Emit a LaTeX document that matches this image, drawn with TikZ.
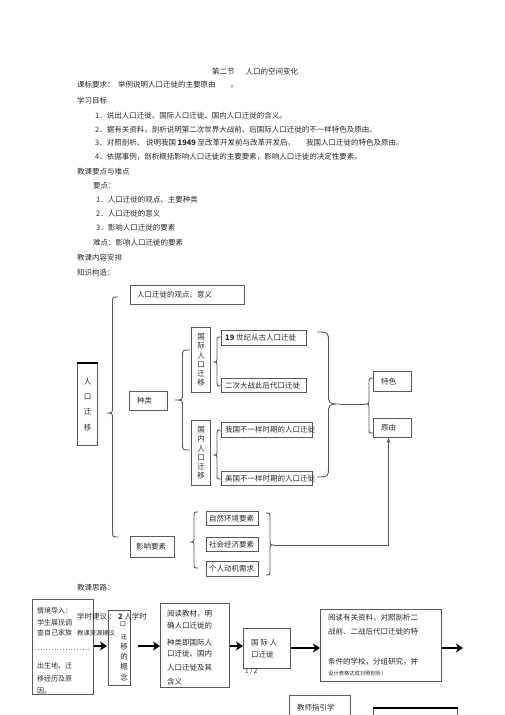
\documentclass[tikz,border=0pt]{standalone}
\usepackage{fontspec}
\setmainfont{Noto Sans CJK SC}
\usetikzlibrary{arrows.meta,calc}
\definecolor{boxc}{HTML}{5A5A5A}
\definecolor{txtc}{HTML}{2A2A2A}
\newcommand\fs{\fontsize{7.5}{9}\selectfont}
\newcommand\fss{\fontsize{6.3}{7}\selectfont}
% brace: #1 end x, #2 tip x, #3 top y, #4 tip y, #5 bottom y, #6 radius
\newcommand\Brc[6]{%
  \draw[brc] (#1,#3) .. controls ({(#1+#2)/2},#3) .. ({(#1+#2)/2},#3+#6)
    -- ({(#1+#2)/2},#4-#6) .. controls ({(#1+#2)/2},#4) .. (#2,#4)
    .. controls ({(#1+#2)/2},#4) .. ({(#1+#2)/2},#4+#6)
    -- ({(#1+#2)/2},#5-#6) .. controls ({(#1+#2)/2},#5) .. (#1,#5);}
% box: name, x, y, w, h, text pad, text
\newcommand\Bx[7]{%
  \node[bx,anchor=north west,minimum width=#4,minimum height=#5] (#1) at (#2,#3) {};
  \node[txt] (#1t) at ([xshift=#6]#1.west) {#7};}
\begin{document}
\begin{tikzpicture}[x=1pt,y=-1pt,
  txt/.style={anchor=west,inner sep=0,font=\fs,text=txtc},
  bx/.style={draw=boxc,line width=1,inner sep=0},
  vbx/.style={draw=boxc,line width=1,inner sep=0,anchor=north west,align=center,text=txtc},
  brc/.style={draw=boxc,line width=0.9},
  arr/.style={line width=2.2,-{Stealth[length=7,width=9,inset=2]}},
  thin arrow/.style={draw=boxc,line width=1,-{Stealth[length=5,width=4]}}]
\useasboundingbox[fill=white] (0,0) rectangle (505,715);

% ---------- header text ----------
\node[txt] (title) at (212,72) {第二节\quad\ \ 人口的空间变化};
\node[txt] (kb) at (77,85) {课标要求：\ \ 举例说明人口迁徙的主要原由\qquad 。};
\node[txt] (xx) at (77,101) {学习目标};
\node[txt] (g1) at (95,116) {1．说出人口迁徙、国际人口迁徙、国内人口迁徙的含义。};
\node[txt] (g2) at (95,130) {2．据有关资料，剖析说明第二次世界大战前、后国际人口迁徙的不一样特色及原由。};
\node[txt] (g3) at (95,143) {3．对照剖析、 说明我国 \textbf{1949} 至改革开发前与改革开发后，\quad\ \ 我国人口迁徙的特色及原由。};
\node[txt] (g4) at (95,157) {4．依据事例，剖析概括影响人口迁徙的主要要素，影响人口迁徙的决定性要素。};
\node[txt] (zd) at (77,172) {教课要点与难点};
\node[txt] (yd) at (93,186) {要点：};
\node[txt] (y1) at (96,200) {1．人口迁徙的观点、主要种类};
\node[txt] (y2) at (96,214) {2．人口迁徙的意义};
\node[txt] (y3) at (96,228) {3．影响人口迁徙的要素};
\node[txt] (nd) at (93,243) {难点：影响人口迁徙的要素};
\node[txt] (ap) at (77,258) {教课内容安排};
\node[txt] (gz) at (77,273) {知识构造：};

% ---------- knowledge structure ----------
\Bx{a}{130}{285}{114}{19}{7}{人口迁徙的观点、意义}
\node[vbx,minimum width=20,minimum height=82,font=\fontsize{7.5}{15.3}\selectfont] (rk) at (77,363) {人\\口\\迁\\移};
\draw[line width=1.4,black] (rk.north west) -- (rk.north east);
\Bx{zl}{129}{391}{38}{19}{8}{种类}
\node[vbx,minimum width=19,minimum height=65,font=\fontsize{7.5}{9.2}\selectfont] (gj) at (191,327) {国\\际\\人\\口\\迁\\移};
\node[vbx,minimum width=19,minimum height=65,font=\fontsize{7.5}{9.2}\selectfont] (gn) at (191,420) {国\\内\\人\\口\\迁\\移};
\Bx{k1}{221}{330}{85}{15}{4}{\textbf{19} 世纪从古人口迁徙}
\Bx{k2}{221}{378}{85}{14}{4}{二次大战此后代口迁徙}
\Bx{k3}{221}{422}{91}{15}{4}{我国不一样时期的人口迁徙}
\Bx{k4}{221}{471}{91}{14}{4}{美国不一样时期的人口迁徙}
\Bx{ts}{373}{371}{38}{20}{8}{特色}
\Bx{yy}{373}{418}{38}{19}{8}{原由}
\Bx{yx}{130}{536}{44}{21}{6}{影响要素}
\Bx{f1}{206}{511}{52}{14}{3}{自然环境要素}
\Bx{f2}{206}{537}{52}{14}{3}{社会经济要素}
\Bx{f3}{206}{561}{52}{15}{3}{个人动机需求}

% braces
\Brc{118}{107}{297}{413}{537}{6}
\Brc{190}{175}{350}{400}{450}{6}
\Brc{221}{213}{337}{362}{386}{5}
\Brc{221}{213}{430}{455}{479}{5}
\Brc{317}{340}{332}{404}{477}{11}
\Brc{373}{365}{378}{404}{433}{5}
\Brc{198}{190}{512}{542}{568}{5}
\Brc{266}{274}{513}{545}{575}{6}

% connectors
\coordinate (bt1) at (340,404);
\coordinate (bt2) at (365,404);
\draw[brc] (bt1) -- (bt2);
\coordinate (ft) at (274,545);
\draw[thin arrow] (ft) -| ([xshift=-4]yy.south);

% ---------- teaching flow ----------
\node[txt] (sl) at (77,588) {教课思路：};
\node[bx,anchor=north west,minimum width=61,minimum height=95] (b1) at (32,599) {};
\node[txt,font=\fontsize{7}{8}\selectfont] (b1a) at (37,611) {情境导入：};
\node[txt,font=\fontsize{7}{8}\selectfont] (b1b) at (37,623) {学生展现调};
\node[txt,font=\fontsize{7}{8}\selectfont] (b1c) at (37,633) {查自己家族};
\draw[boxc!70,dotted,line width=0.8] (35,649) -- (90,649);
\node[txt,font=\fontsize{7}{8}\selectfont] (b1d) at (37,666) {出生地、迁};
\node[txt,font=\fontsize{7}{8}\selectfont] (b1e) at (37,679) {移经历及原};
\node[txt,font=\fontsize{7}{8}\selectfont] (b1f) at (37,691) {因。};

\node[bx,anchor=north west,minimum width=22,minimum height=75] (b2) at (108,610) {};
\node[inner sep=0,font=\fss,text=txtc] (b2a) at (123,624) {口};
\node[inner sep=0,font=\fss,text=txtc] (b2b) at (124,637) {迁};
\node[inner sep=0,font=\fs,text=txtc] (b2c) at (124,647) {移};
\node[inner sep=0,font=\fs,text=txtc] (b2d) at (124,657) {的};
\node[inner sep=0,font=\fs,text=txtc] (b2e) at (124,667) {概};
\node[inner sep=0,font=\fs,text=txtc] (b2f) at (124,677) {念};
\node[txt] (xs) at (77,617) {学时建议 ： \textbf{2} 人学时};
\node[txt,font=\fss] (zy) at (77,633) {教课资源建议};

\node[bx,anchor=north west,minimum width=69,minimum height=84] (b3) at (160,603) {};
\node[txt] (b3a) at (167,614) {阅读教材，明};
\node[txt] (b3b) at (167,626) {确人口迁徙的};
\node[txt] (b3c) at (167,643) {种类即国际人};
\node[txt] (b3d) at (167,654) {口迁徙、国内};
\node[txt] (b3e) at (167,668) {人口迁徙及其};
\node[txt] (b3f) at (167,682) {含义};

\node[bx,anchor=north west,minimum width=47,minimum height=40] (b4) at (243,628) {};
\node[txt] (b4a) at (251,643) {国 际 人};
\node[txt] (b4b) at (251,655) {口迁徙};
\node[txt,font=\fss] (pg) at (245,672) {1 / 2};

\node[bx,anchor=north west,minimum width=121,minimum height=72] (b5) at (320,609) {};
\node[txt] (b5a) at (328,618) {阅读有关资料，对照剖析二};
\node[txt] (b5b) at (328,632) {战前、二战后代口迁徙的特};
\node[txt] (b5c) at (328,662) {条件的学校，分组研究，并};
\node[txt,font=\fontsize{5.3}{6}\selectfont] (b5d) at (328,673) {设计表格达成对照剖析）};

\node[bx,anchor=north west,minimum width=61,minimum height=30] (b6) at (289,695) {};
\node[txt] (b6a) at (297,708) {教师指引学};
\node[bx,anchor=north west,minimum width=84,minimum height=20] (b7) at (373,708) {};
\draw[line width=1.4,black] (b7.north west) -- (b7.north east);

\coordinate (ay) at (0,646);
\coordinate (ay2) at (0,648);
\coordinate (e5) at (463,648);
\draw[arr] (b1.east |- ay) -- ([xshift=-1]b2.west |- ay);
\draw[arr] ([xshift=7]b2.east |- ay) -- (b3.west |- ay);
\draw[arr] (b3.east |- ay) -- (b4.west |- ay);
\draw[arr] (b4.east |- ay2) -- (b5.west |- ay2);
\draw[arr] (b5.east |- ay2) -- (e5);
\end{tikzpicture}
\end{document}
